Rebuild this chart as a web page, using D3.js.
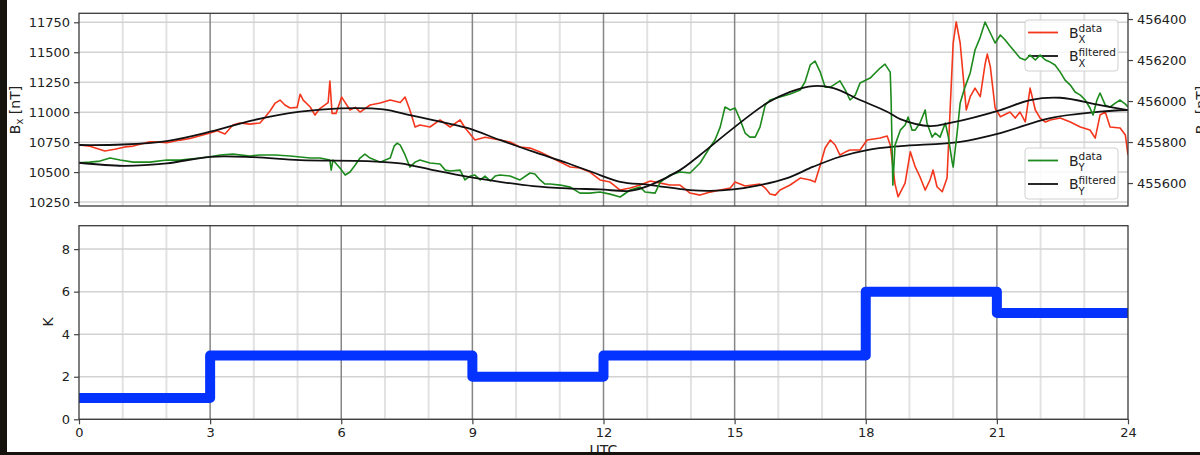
<!DOCTYPE html>
<html>
<head>
<meta charset="utf-8">
<script src="https://cdn.jsdelivr.net/npm/d3@7"></script>
<style>
  body { margin: 0; background: #fff; }
  svg { display: block; }
  text { font-family: "DejaVu Sans", "Liberation Sans", sans-serif; }
</style>
</head>
<body>
<svg id="chart" width="1200" height="455"></svg>
<script>
// Hours of the day (UTC) and tick labels
const hourTicks = [0, 3, 6, 9, 12, 15, 18, 21, 24];
const bxTicks = [10250, 10500, 10750, 11000, 11250, 11500, 11750];
const byTicks = [455600, 455800, 456000, 456200, 456400];
const kTicks = [0, 2, 4, 6, 8];

// Bx measured [hour, nT]
const bxData = [[0,10726],[0.25,10715],[0.59,10676],[0.82,10690],[1.05,10710],[1.24,10717],[1.62,10753],[1.85,10750],[2.01,10745],[2.31,10767],[2.54,10780],[2.77,10803],[3.0,10826],[3.16,10845],[3.34,10818],[3.52,10893],[3.68,10910],[3.91,10900],[4.14,10910],[4.26,10960],[4.37,11010],[4.49,11076],[4.60,11101],[4.71,11060],[4.83,11035],[4.99,11040],[5.06,11150],[5.13,11100],[5.29,11043],[5.40,10976],[5.51,11030],[5.70,11080],[5.74,11260],[5.79,10990],[5.88,10990],[6.01,11126],[6.09,11080],[6.20,11018],[6.32,11040],[6.43,11001],[6.66,11060],[6.89,11076],[7.12,11101],[7.35,11080],[7.46,11126],[7.57,11018],[7.69,10876],[7.80,10893],[8.03,10876],[8.26,10935],[8.49,10876],[8.72,10935],[8.83,10870],[9.06,10768],[9.29,10790],[9.63,10768],[9.86,10751],[10.09,10709],[10.32,10700],[10.55,10667],[10.78,10626],[11.01,10584],[11.24,10542],[11.46,10534],[11.69,10500],[11.92,10434],[12.15,10417],[12.38,10350],[12.61,10367],[12.84,10392],[13.07,10425],[13.30,10408],[13.52,10392],[13.75,10392],[13.98,10325],[14.21,10308],[14.44,10333],[14.67,10350],[14.90,10367],[15.01,10417],[15.24,10384],[15.58,10400],[15.70,10367],[15.81,10317],[15.93,10308],[16.04,10350],[16.27,10392],[16.50,10450],[16.73,10434],[16.84,10417],[16.96,10559],[17.07,10701],[17.19,10768],[17.30,10726],[17.41,10642],[17.53,10667],[17.64,10684],[17.87,10684],[18.03,10768],[18.33,10784],[18.49,10801],[18.56,10726],[18.63,10517],[18.67,10400],[18.74,10294],[18.90,10408],[19.02,10670],[19.13,10545],[19.24,10461],[19.36,10350],[19.47,10434],[19.54,10517],[19.63,10378],[19.75,10336],[19.86,10450],[19.93,11018],[20.00,11577],[20.07,11753],[20.16,11577],[20.23,11296],[20.30,11018],[20.39,11129],[20.50,11201],[20.62,11129],[20.73,11400],[20.78,11485],[20.85,11380],[20.96,11035],[21.08,10962],[21.30,11001],[21.42,10951],[21.53,11001],[21.65,10918],[21.76,11201],[21.88,11018],[21.99,10951],[22.11,10918],[22.22,10935],[22.45,10951],[22.68,10918],[22.91,10876],[23.13,10851],[23.25,10784],[23.36,10976],[23.48,11001],[23.59,10876],[23.82,10868],[23.94,10809],[24.0,10642]];

// Bx after filtering [hour, nT]
const bxFiltered = [[0,10726],[1.0,10730],[2.01,10759],[3.0,10837],[4.0,10934],[5.06,11004],[5.97,11032],[6.96,11024],[7.57,10976],[8.10,10934],[8.88,10868],[9.63,10768],[10.39,10670],[11.17,10576],[11.92,10475],[12.38,10419],[13.07,10392],[13.98,10350],[14.44,10344],[14.97,10356],[15.58,10392],[16.20,10450],[16.80,10545],[17.41,10628],[18.03,10684],[18.79,10717],[20.16,10753],[21.08,10826],[22.22,10951],[23.36,11004],[24,11018]];

// By measured [hour, nT]
const byData = [[0,455699],[0.25,455702],[0.48,455707],[0.71,455722],[0.94,455712],[1.24,455702],[1.62,455702],[2.01,455712],[2.31,455712],[2.77,455722],[3.0,455728],[3.23,455737],[3.52,455741],[3.91,455732],[4.14,455737],[4.49,455737],[4.83,455732],[5.06,455727],[5.29,455722],[5.51,455722],[5.74,455712],[5.77,455663],[5.81,455712],[5.97,455673],[6.09,455639],[6.20,455654],[6.32,455688],[6.43,455722],[6.54,455741],[6.66,455722],[6.89,455702],[7.12,455722],[7.21,455780],[7.28,455795],[7.35,455785],[7.46,455737],[7.57,455678],[7.69,455702],[7.80,455712],[8.03,455698],[8.26,455693],[8.38,455663],[8.49,455659],[8.72,455663],[8.83,455615],[8.95,455634],[9.06,455639],[9.18,455615],[9.29,455634],[9.41,455610],[9.52,455634],[9.63,455639],[9.86,455634],[10.09,455615],[10.32,455649],[10.43,455644],[10.55,455615],[10.66,455595],[10.78,455595],[11.01,455590],[11.24,455580],[11.46,455551],[11.69,455551],[11.92,455556],[12.15,455546],[12.38,455532],[12.61,455566],[12.84,455580],[12.95,455556],[13.18,455551],[13.30,455605],[13.52,455639],[13.75,455654],[13.98,455649],[14.21,455698],[14.44,455776],[14.55,455810],[14.67,455873],[14.78,455971],[14.90,455956],[15.01,455966],[15.13,455907],[15.24,455844],[15.35,455824],[15.47,455824],[15.58,455873],[15.70,455980],[15.81,456005],[16.04,456020],[16.27,456034],[16.50,456054],[16.61,456093],[16.73,456176],[16.84,456195],[16.96,456141],[17.07,456068],[17.19,456068],[17.41,456098],[17.53,456054],[17.64,456005],[17.76,456029],[17.87,456088],[18.10,456112],[18.33,456161],[18.44,456180],[18.56,456141],[18.58,456005],[18.62,455590],[18.67,455785],[18.79,455858],[18.90,455883],[18.97,455922],[19.06,455858],[19.13,455858],[19.24,455893],[19.36,455956],[19.40,455893],[19.52,455824],[19.59,455844],[19.70,455824],[19.82,455893],[19.89,455824],[19.98,455698],[20.00,455678],[20.09,455844],[20.16,455990],[20.27,456068],[20.39,456137],[20.50,456249],[20.62,456312],[20.73,456385],[20.85,456332],[20.96,456283],[21.08,456322],[21.19,456298],[21.30,456268],[21.53,456210],[21.65,456200],[21.76,456224],[21.88,456200],[21.99,456224],[22.11,456200],[22.22,456190],[22.33,456176],[22.45,456141],[22.56,456102],[22.68,456078],[22.79,456044],[22.91,456029],[23.02,456005],[23.13,455966],[23.20,455932],[23.29,456005],[23.36,456039],[23.48,455980],[23.59,455971],[23.71,455990],[23.82,456005],[23.94,455985],[24.0,455971]];

// By after filtering [hour, nT]
const byFiltered = [[0,455699],[1.01,455684],[2.01,455696],[3.0,455728],[4.0,455726],[5.06,455712],[6.59,455707],[7.35,455696],[8.10,455663],[8.88,455631],[9.63,455606],[10.39,455585],[11.17,455574],[11.92,455569],[12.61,455562],[13.07,455590],[13.75,455663],[14.21,455737],[14.97,455868],[15.74,455990],[16.27,456045],[16.80,456073],[17.26,456063],[17.87,456005],[18.49,455948],[18.79,455912],[19.47,455878],[19.93,455893],[21.08,455956],[21.76,456005],[22.45,456016],[23.36,455980],[24,455956]];

// Three-hourly K index: start hour and value
const kHours = [0, 3, 6, 9, 12, 15, 18, 21, 24];
const kValues = [1, 3, 3, 2, 3, 3, 6, 5, 5];

const W = 1200, H = 455;
const left = 79, right = 1128;
const top1 = 13.3, bot1 = 206;
const top2 = 225.7, bot2 = 419.3;

const svg = d3.select("#chart");
svg.append("rect").attr("width", W).attr("height", H).attr("fill", "#fff");

const x = d3.scaleLinear().domain([0, 24]).range([left, right]);
const yL = d3.scaleLinear().domain([10217, 11825]).range([bot1, top1]);
const yR = d3.scaleLinear().domain([455488, 456428]).range([bot1, top1]);
const yK = d3.scaleLinear().domain([0, 9.1]).range([bot2, top2]);

const defs = svg.append("defs");
function clip(id, y0, y1) {
  defs.append("clipPath").attr("id", id)
    .append("rect").attr("x", left).attr("y", y0)
    .attr("width", right - left).attr("height", y1 - y0);
}
clip("clipTop", top1, bot1);
clip("clipBot", top2, bot2);

// Background grid: light hourly lines, horizontal lines at y ticks, darker 3-hour lines
function grid(y0, y1, yScale, yVals) {
  const g = svg.append("g");
  const hours = d3.range(1, 24).filter(h => h % 3 !== 0);
  g.selectAll(".minor").data(hours).join("line")
    .attr("x1", d => x(d)).attr("x2", d => x(d))
    .attr("y1", y0).attr("y2", y1)
    .attr("stroke", "#e2e2e2").attr("stroke-width", 2);
  g.selectAll(".hz").data(yVals).join("line")
    .attr("x1", left).attr("x2", right)
    .attr("y1", d => yScale(d)).attr("y2", d => yScale(d))
    .attr("stroke", "#d2d2d2").attr("stroke-width", 1.5);
  g.selectAll(".major").data(hourTicks.slice(1, -1)).join("line")
    .attr("x1", d => x(d)).attr("x2", d => x(d))
    .attr("y1", y0).attr("y2", y1)
    .attr("stroke", "#858585").attr("stroke-width", 1.5);
}
grid(top1, bot1, yL, bxTicks);
grid(top2, bot2, yK, kTicks);

// Top panel, Bx (left axis)
const lineL = d3.line().x(d => x(d[0])).y(d => yL(d[1]));
const lineLs = d3.line().x(d => x(d[0])).y(d => yL(d[1])).curve(d3.curveCatmullRom.alpha(0.5));
const lineR = d3.line().x(d => x(d[0])).y(d => yR(d[1]));
const lineRs = d3.line().x(d => x(d[0])).y(d => yR(d[1])).curve(d3.curveCatmullRom.alpha(0.5));

const gx = svg.append("g").attr("clip-path", "url(#clipTop)");
gx.append("path").datum(bxData).attr("d", lineL)
  .attr("fill", "none").attr("stroke", "#f3361c").attr("stroke-width", 1.6).attr("stroke-linejoin", "round");
gx.append("path").datum(bxFiltered).attr("d", lineLs)
  .attr("fill", "none").attr("stroke", "#111").attr("stroke-width", 1.8);

// Legend box with mathtext-style labels
function legend(x0, y0, entries) {
  const g = svg.append("g");
  g.append("rect").attr("x", x0).attr("y", y0).attr("width", 93).attr("height", 51)
    .attr("rx", 3).attr("fill", "#fff").attr("fill-opacity", 0.85)
    .attr("stroke", "#d0d0d0").attr("stroke-width", 1);
  entries.forEach((e, i) => {
    const cy = y0 + 12.5 + i * 23.5;
    g.append("line").attr("x1", x0 + 3).attr("x2", x0 + 33)
      .attr("y1", cy).attr("y2", cy).attr("stroke", e.color).attr("stroke-width", 1.8);
    g.append("text").attr("x", x0 + 44).attr("y", cy + 5.3)
      .attr("font-size", 14).attr("fill", "#222").text("B");
    g.append("text").attr("x", x0 + 53.5).attr("y", cy + 10.6)
      .attr("font-size", 10).attr("fill", "#222").text(e.sub);
    g.append("text").attr("x", x0 + 53.5).attr("y", cy - 0.5)
      .attr("font-size", 10.5).attr("fill", "#222").text(e.sup);
  });
}
legend(1025, 20, [
  { color: "#f3361c", sub: "X", sup: "data" },
  { color: "#111", sub: "X", sup: "filtered" }
]);

// Top panel, By (right axis) drawn above the Bx legend
const gy = svg.append("g").attr("clip-path", "url(#clipTop)");
gy.append("path").datum(byData).attr("d", lineR)
  .attr("fill", "none").attr("stroke", "#1d8a1d").attr("stroke-width", 1.6).attr("stroke-linejoin", "round");
gy.append("path").datum(byFiltered).attr("d", lineRs)
  .attr("fill", "none").attr("stroke", "#111").attr("stroke-width", 1.8);

legend(1025, 148, [
  { color: "#1d8a1d", sub: "Y", sup: "data" },
  { color: "#111", sub: "Y", sup: "filtered" }
]);

// Bottom panel, K index as a step line
const kPts = kHours.map((h, i) => [h, kValues[i]]);
svg.append("g").attr("clip-path", "url(#clipBot)")
  .append("path").datum(kPts)
  .attr("d", d3.line().x(d => x(d[0])).y(d => yK(d[1])).curve(d3.curveStepAfter))
  .attr("fill", "none").attr("stroke", "#0433ff").attr("stroke-width", 10)
  .attr("stroke-linejoin", "round");

// Axes
function styleAxis(g) {
  g.select(".domain").remove();
  g.selectAll(".tick line").attr("stroke", "#444").attr("stroke-width", 1.2);
  g.selectAll(".tick text").attr("font-size", 13).attr("fill", "#222")
    .attr("font-family", "DejaVu Sans, sans-serif");
}
svg.append("g").attr("transform", `translate(${left},0)`)
  .call(d3.axisLeft(yL).tickValues(bxTicks).tickSize(5).tickPadding(4).tickFormat(d3.format("d")))
  .call(styleAxis);
svg.append("g").attr("transform", `translate(${right},0)`)
  .call(d3.axisRight(yR).tickValues(byTicks).tickSize(5).tickPadding(4).tickFormat(d3.format("d")))
  .call(styleAxis);
svg.append("g").attr("transform", `translate(${left},0)`)
  .call(d3.axisLeft(yK).tickValues(kTicks).tickSize(5).tickPadding(4))
  .call(styleAxis);
svg.append("g").attr("transform", `translate(0,${bot2})`)
  .call(d3.axisBottom(x).tickValues(hourTicks).tickSize(5).tickPadding(3))
  .call(styleAxis);

// Panel frames
[[top1, bot1], [top2, bot2]].forEach(([a, b]) => {
  svg.append("rect").attr("x", left).attr("y", a).attr("width", right - left).attr("height", b - a)
    .attr("fill", "none").attr("stroke", "#3a3a3a").attr("stroke-width", 1.3);
});

// Axis titles
const lab = svg.append("text").attr("transform", "translate(20,110) rotate(-90)")
  .attr("text-anchor", "middle").attr("font-size", 14).attr("fill", "#222");
lab.append("tspan").text("B");
lab.append("tspan").attr("font-size", 10).attr("dy", 3).text("x");
lab.append("tspan").attr("dy", -3).text(" [nT]");

const labR = svg.append("text").attr("transform", "translate(1206,110) rotate(-90)")
  .attr("text-anchor", "middle").attr("font-size", 14).attr("fill", "#222");
labR.append("tspan").text("B");
labR.append("tspan").attr("font-size", 10).attr("dy", 3).text("y");
labR.append("tspan").attr("dy", -3).text(" [nT]");

svg.append("text").attr("transform", "translate(53,322) rotate(-90)")
  .attr("text-anchor", "middle").attr("font-size", 14).attr("fill", "#222").text("K");

svg.append("text").attr("x", 603.5).attr("y", 455).attr("text-anchor", "middle")
  .attr("font-size", 14).attr("fill", "#222").text("UTC");

// Dark edges of the frame
svg.append("rect").attr("x", 0).attr("y", 0).attr("width", 7).attr("height", H).attr("fill", "#16130e");
svg.append("rect").attr("x", 0).attr("y", 452).attr("width", W).attr("height", 3).attr("fill", "#16130e");
</script>
</body>
</html>
